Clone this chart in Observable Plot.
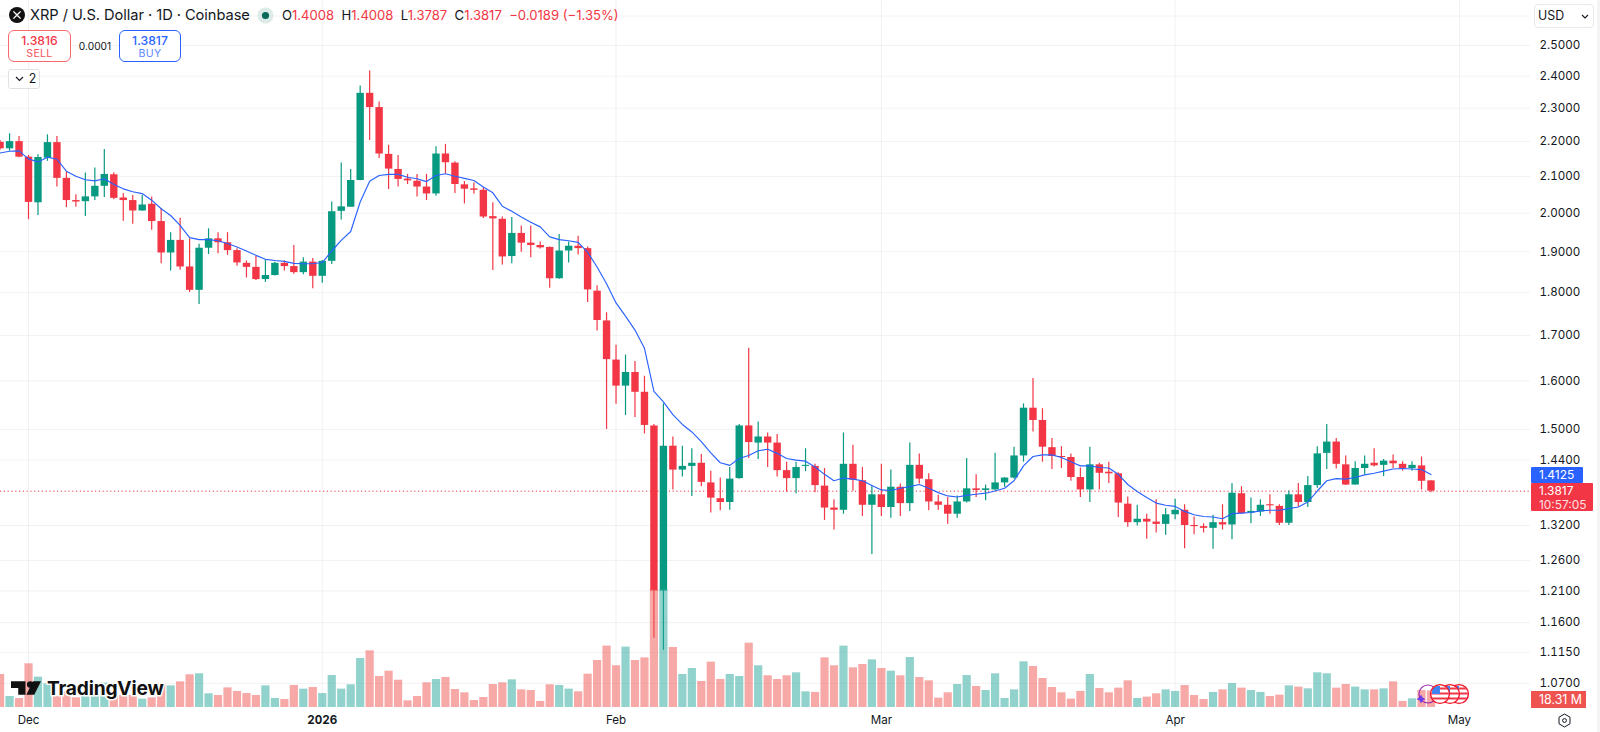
<!DOCTYPE html>
<html>
<head>
<meta charset="utf-8">
<script src="https://cdn.jsdelivr.net/npm/d3@7"></script>
<script src="https://cdn.jsdelivr.net/npm/@observablehq/plot@0.6"></script>
<style>
html,body{margin:0;padding:0;background:#fff;}
#chart{position:relative;width:1600px;height:732px;overflow:hidden;font-family:Inter,"Noto Sans",sans-serif;color:#131722;background:#fff;}
#chart svg.plot-layer{position:absolute;left:0;top:0;}
.ov{position:absolute;white-space:nowrap;box-sizing:border-box;}
.box{border-radius:6px;text-align:center;background:#fff;}
.tag{color:#fff;text-align:left;padding-left:8px;font-size:12px;}
</style>
</head>
<body>
<div id="chart"></div>
<script>
const firstDay = "2025-11-28";
const lastDay = "2026-04-28";
const priceOpen = [
2.198,2.179,2.2,
2.155,2.028,2.152,2.197,2.095,2.034,2.031,2.044,2.073,2.105,2.041,2.034,2.006,2.024,1.978,1.897,1.929,1.862,1.805,1.909,1.933,1.923,1.903,1.871,1.861,1.831,1.841,1.871,1.863,1.848,1.874,
1.839,1.876,2.005,2.016,2.089,2.346,2.302,2.163,2.12,2.093,2.087,2.071,2.052,2.164,2.138,2.077,2.066,2.062,1.991,1.984,1.888,1.947,1.922,1.916,1.911,1.833,1.902,1.914,1.908,1.803,1.733,
1.645,1.589,1.618,1.576,1.507,1.21,1.467,1.421,1.428,1.434,1.397,1.368,1.361,1.405,1.507,1.473,1.485,1.473,1.42,1.405,1.428,1.428,1.391,1.351,1.347,1.432,1.401,1.356,
1.375,1.352,1.389,1.359,1.43,1.403,1.362,1.356,1.34,1.362,1.386,1.383,1.384,1.397,1.406,1.448,1.543,1.518,1.464,1.447,1.445,1.407,1.384,1.431,1.417,1.414,1.358,1.325,1.331,1.326,1.322,
1.339,1.347,1.32,1.318,1.315,1.325,1.321,1.377,1.342,1.344,1.357,1.354,1.324,1.375,1.361,1.392,1.453,1.475,1.431,1.393,1.424,1.434,1.43,1.438,1.432,1.424,1.429,1.4008];
const priceHigh = [
2.203,2.223,2.215,
2.16,2.162,2.22,2.215,2.113,2.05,2.11,2.124,2.177,2.111,2.053,2.048,2.048,2.044,2.012,1.949,1.987,1.933,1.919,1.959,1.949,1.949,1.908,1.877,1.888,1.88,1.874,1.877,1.916,1.885,1.883,
1.878,2.03,2.138,2.12,2.369,2.417,2.319,2.189,2.16,2.106,2.106,2.106,2.185,2.192,2.142,2.086,2.082,2.069,2.028,1.99,1.989,1.966,1.966,1.925,1.912,1.944,1.925,1.94,1.912,1.816,1.752,
1.678,1.656,1.642,1.61,1.51,1.552,1.485,1.467,1.462,1.451,1.419,1.406,1.426,1.51,1.671,1.515,1.493,1.49,1.436,1.436,1.462,1.432,1.424,1.366,1.493,1.469,1.426,1.392,
1.432,1.421,1.395,1.473,1.452,1.414,1.374,1.37,1.373,1.443,1.412,1.393,1.453,1.407,1.465,1.552,1.605,1.542,1.482,1.466,1.452,1.425,1.465,1.434,1.436,1.416,1.371,1.356,1.34,1.366,1.35,
1.367,1.357,1.335,1.323,1.338,1.357,1.396,1.39,1.369,1.366,1.375,1.357,1.382,1.396,1.409,1.466,1.51,1.482,1.448,1.437,1.448,1.462,1.441,1.45,1.437,1.437,1.446,1.4008];
const priceLow = [
2.175,2.172,2.153,
1.983,1.994,2.143,2.071,2.015,2.016,1.991,2.034,2.042,2.036,1.979,1.971,2.005,1.955,1.87,1.852,1.854,1.8,1.771,1.893,1.895,1.891,1.864,1.835,1.829,1.824,1.84,1.852,1.844,1.843,1.809,
1.822,1.868,1.982,2.016,2.088,2.203,2.151,2.064,2.071,2.078,2.044,2.034,2.046,2.108,2.053,2.025,2.051,1.986,1.853,1.867,1.87,1.899,1.885,1.907,1.81,1.832,1.872,1.892,1.776,1.71,1.5,
1.551,1.528,1.524,1.491,1.136,1.118,1.384,1.408,1.372,1.39,1.342,1.346,1.347,1.404,1.443,1.441,1.426,1.408,1.38,1.377,1.418,1.379,1.329,1.312,1.34,1.382,1.336,1.27,
1.336,1.333,1.336,1.345,1.395,1.346,1.347,1.322,1.333,1.36,1.37,1.364,1.382,1.389,1.404,1.436,1.495,1.436,1.422,1.424,1.4,1.37,1.361,1.384,1.396,1.334,1.317,1.319,1.296,1.307,1.303,
1.33,1.28,1.304,1.307,1.279,1.312,1.295,1.34,1.323,1.336,1.34,1.32,1.32,1.353,1.352,1.387,1.422,1.423,1.392,1.393,1.412,1.427,1.409,1.424,1.419,1.419,1.384,1.3787];
const priceClose = [
2.179,2.2,2.155,
2.029,2.154,2.197,2.095,2.034,2.03,2.044,2.073,2.106,2.04,2.034,2.006,2.022,1.978,1.897,1.929,1.862,1.805,1.909,1.933,1.923,1.903,1.872,1.861,1.831,1.841,1.871,1.863,1.848,1.874,1.839,
1.876,2.004,2.017,2.089,2.346,2.302,2.164,2.121,2.092,2.088,2.071,2.052,2.164,2.139,2.078,2.065,2.062,1.99,1.985,1.887,1.947,1.922,1.916,1.91,1.833,1.902,1.914,1.908,1.806,1.734,1.646,
1.589,1.618,1.576,1.508,1.21,1.467,1.421,1.428,1.434,1.398,1.369,1.361,1.404,1.507,1.474,1.485,1.473,1.42,1.405,1.426,1.43,1.392,1.351,1.347,1.432,1.402,1.356,1.375,
1.352,1.389,1.359,1.43,1.404,1.362,1.356,1.34,1.362,1.386,1.383,1.386,1.397,1.406,1.448,1.543,1.518,1.465,1.447,1.445,1.407,1.384,1.431,1.415,1.414,1.36,1.325,1.331,1.326,1.322,1.339,
1.347,1.32,1.318,1.315,1.325,1.321,1.378,1.341,1.345,1.356,1.355,1.324,1.375,1.361,1.392,1.452,1.475,1.432,1.393,1.424,1.432,1.429,1.438,1.433,1.424,1.43,1.4,1.3817];
const movingAverage = [
2.167,2.172,2.173,
2.15,2.141,2.155,2.149,2.115,2.101,2.091,2.088,2.094,2.078,2.066,2.058,2.053,2.035,2.012,1.994,1.968,1.936,1.931,1.931,1.928,1.921,1.912,1.902,1.891,1.881,1.878,1.876,1.871,1.87,1.87,
1.873,1.902,1.929,1.952,2.03,2.087,2.103,2.106,2.106,2.098,2.094,2.086,2.103,2.108,2.101,2.095,2.089,2.071,2.055,2.019,2.005,1.99,1.976,1.964,1.938,1.931,1.928,1.924,1.899,1.862,1.821,
1.775,1.744,1.712,1.671,1.578,1.556,1.53,1.51,1.495,1.476,1.454,1.435,1.43,1.443,1.449,1.458,1.461,1.453,1.443,1.44,1.438,1.427,1.413,1.401,1.406,1.404,1.401,1.392,
1.384,1.383,1.387,1.39,1.394,1.387,1.379,1.373,1.371,1.374,1.376,1.378,1.382,1.387,1.401,1.429,1.447,1.45,1.45,1.445,1.437,1.429,1.429,1.426,1.425,1.413,1.394,1.381,1.37,1.36,1.356,
1.354,1.345,1.339,1.336,1.335,1.332,1.341,1.342,1.343,1.346,1.347,1.347,1.35,1.353,1.362,1.382,1.401,1.405,1.404,1.407,1.412,1.415,1.419,1.423,1.424,1.423,1.422,1.4125];
const volumeM = [
36.6,12.2,10,
48.5,33.7,26.3,12.2,17,10.7,12.2,12.2,27,18,13.3,13.3,9.3,10.7,26.3,24,28.5,36.3,37.4,15.2,13.3,21.8,17.8,15.5,13.3,24,10,8.9,24.4,20.4,22.2,
15.5,35.5,20.4,25.2,54.4,62.9,34.4,40.3,30.3,7.4,12.2,27.4,31.1,33.3,20,16.3,7.8,11.1,25.5,27.4,30.7,19.6,18.9,6.7,25.2,24.4,20.4,17.4,37,52.2,68.1,
46.3,67,52.2,55.1,131,131,66.6,36.6,43.3,28.9,50.3,31.1,36.6,34.4,71.4,46.3,35.2,31.1,35.2,38.5,17.4,16.7,55.1,46.3,68.1,44,47.7,52.9,
43.3,40.3,35.2,55.5,33.3,29.6,10.4,16.3,25.5,35.5,23.3,18.9,37.4,10,19.6,50.7,45.5,32.2,22.2,16.3,9.3,17.8,36.6,21.1,16.3,21.5,29.6,10,11.5,15.2,19.6,
17.8,24.4,13.3,8.9,16.7,19.6,26.6,21.5,18.9,16.7,12.2,13.7,24,22.6,20.7,38.5,37.4,21.5,25.5,22.6,19.6,19.6,20.7,28.5,6.7,9.6,18.9,18.31];
const priceTicks = [2.5,2.4,2.3,2.2,2.1,2.0,1.9,1.8,1.7,1.6,1.5,1.44,1.32,1.26,1.21,1.16,1.115,1.07];
const gridExtra = [2.6];
const monthTicks = ["2025-12-01","2026-02-01","2026-03-01","2026-04-01","2026-05-01"];
const monthLabels = ["Dec","Feb","Mar","Apr","May"];
const yearTick = ["2026-01-01"];
const yearLabel = "2026";
const lastPrice = 1.3817;

const UP = "#089981", DOWN = "#f23645", LINE = "#2962ff";
const FONT = 'Inter,"Noto Sans",sans-serif';
const days = d3.utcDay.range(new Date(firstDay), d3.utcDay.offset(new Date(lastDay), 1));
if (days.length !== priceOpen.length || days.length !== priceHigh.length || days.length !== priceLow.length ||
    days.length !== priceClose.length || days.length !== movingAverage.length || days.length !== volumeM.length) {
  throw new Error(`lengths ${days.length} ${priceOpen.length} ${priceHigh.length} ${priceLow.length} ${priceClose.length} ${movingAverage.length} ${volumeM.length}`);
}
const rows = days.map((date, i) => ({
  date, open: priceOpen[i], high: priceHigh[i], low: priceLow[i], close: priceClose[i],
  ma: movingAverage[i], vol: volumeM[i], up: priceClose[i] >= priceOpen[i]
}));
const colorOf = d => d.up ? UP : DOWN;
const xOptions = {type: "utc", domain: [new Date("2025-11-28T01:05Z"), new Date("2026-05-08T12:00Z")]};
const base = {width: 1600, height: 732, marginLeft: 0, marginRight: 70, marginTop: 0, marginBottom: 25,
  style: {background: "transparent", maxWidth: "none", fontFamily: FONT}};
const monthDates = monthTicks.map(d => new Date(d));
const yearDates = yearTick.map(d => new Date(d));

const pricePlot = Plot.plot({
  ...base,
  x: {...xOptions, axis: null},
  y: {type: "log", domain: [1.0361, 2.6544], range: [707, 0], axis: null},
  marks: [
    Plot.gridY([...gridExtra, ...priceTicks], {stroke: "#000", strokeOpacity: 0.055, strokeWidth: 1}),
    Plot.gridX([...monthDates, ...yearDates], {stroke: "#000", strokeOpacity: 0.055, strokeWidth: 1}),
    Plot.axisY(priceTicks, {anchor: "right", tickSize: 0, tickPadding: 9, tickFormat: d3.format(".4f"),
      fontSize: 11.6, fill: "#131722", label: null}),
    Plot.axisX(monthDates, {anchor: "bottom", tickSize: 0, tickPadding: 8.5,
      tickFormat: d => monthLabels[monthTicks.indexOf(d.toISOString().slice(0, 10))],
      fontSize: 11.6, fill: "#131722", label: null}),
    Plot.axisX(yearDates, {anchor: "bottom", tickSize: 0, tickPadding: 8.5,
      tickFormat: () => yearLabel, fontSize: 11.6, fontWeight: 700, fill: "#131722", label: null}),
    Plot.ruleY([lastPrice], {stroke: DOWN, strokeWidth: 1, strokeDasharray: "1.2,2.6"}),
    Plot.ruleX(rows, {x: "date", y1: "low", y2: "high", stroke: colorOf, strokeWidth: 1.2, clip: true}),
    Plot.ruleX(rows, {x: "date", y1: "open", y2: "close", stroke: colorOf, strokeWidth: 7.4, clip: true}),
    Plot.line(rows, {x: "date", y: "ma", stroke: LINE, strokeWidth: 1.15, curve: "linear", clip: true})
  ]
});
const volumePlot = Plot.plot({
  ...base,
  x: {...xOptions, axis: null},
  y: {type: "linear", domain: [0, 100], range: [707, 616.9], axis: null},
  marks: [
    Plot.ruleX(rows, {x: "date", y1: 0, y2: "vol", stroke: d => d.up ? "#26a69a" : "#ef5350",
      strokeOpacity: 0.5, strokeWidth: 8.2, clip: true})
  ]
});
pricePlot.classList.add("plot-layer");
volumePlot.classList.add("plot-layer");
const chart = document.getElementById("chart");
chart.append(pricePlot, volumePlot);

const overlay = `
<svg class="ov" style="left:9px;top:7px" width="16" height="16" viewBox="0 0 16 16"><circle cx="8" cy="8" r="8" fill="#111"/><path d="M4.4 4.4 7 7q1 1 2 0l2.6-2.6M4.4 11.6 7 9q1-1 2 0l2.6 2.6" stroke="#fff" stroke-width="1.3" fill="none"/></svg>
<div class="ov" style="left:30px;top:6px;font-size:14.65px;line-height:18px;letter-spacing:-.05px">XRP / U.S. Dollar · 1D · Coinbase</div>
<svg class="ov" style="left:257px;top:7px" width="17" height="17"><circle cx="8.5" cy="8.5" r="8" fill="#dcebe8"/><circle cx="8.5" cy="8.5" r="3.6" fill="#08695a"/></svg>
<div class="ov" style="left:282px;top:7px;font-size:13.1px;line-height:16px;color:${DOWN}"><span style="color:#131722">O</span>1.4008&nbsp; <span style="color:#131722">H</span>1.4008&nbsp; <span style="color:#131722">L</span>1.3787&nbsp; <span style="color:#131722">C</span>1.3817&nbsp; −0.0189 (−1.35%)</div>
<div class="ov box" style="left:8px;top:30px;width:63px;height:32px;border:1.4px solid #f7686f;color:${DOWN}"><div style="font-size:12.2px;font-weight:500;line-height:14px;margin-top:3px">1.3816</div><div style="font-size:10.6px;line-height:12px;color:#f7525f;letter-spacing:.3px">SELL</div></div>
<div class="ov" style="left:71px;width:48px;top:40px;font-size:10.2px;line-height:12px;text-align:center">0.0001</div>
<div class="ov box" style="left:119px;top:30px;width:62px;height:32px;border:1.4px solid ${LINE};color:${LINE}"><div style="font-size:12.2px;font-weight:500;line-height:14px;margin-top:3px">1.3817</div><div style="font-size:10.6px;line-height:12px;color:#5b86ff;letter-spacing:.3px">BUY</div></div>
<div class="ov box" style="left:8px;top:69px;width:32px;height:20px;border:1px solid #dfe1e6;font-size:12.4px;line-height:18px;padding-left:3px;border-radius:3px"><svg width="9" height="6" style="margin-right:5px;vertical-align:1px"><path d="M1 1l3.5 3.5L8 1" stroke="#131722" stroke-width="1.1" fill="none"/></svg>2</div>
<div class="ov box" style="left:1534px;top:4px;width:60px;height:24px;border:1px solid #e8e9ed;text-align:left;font-size:12.4px;line-height:22px;padding-left:3px;border-radius:4px">USD<svg width="8" height="6" style="position:absolute;right:4px;top:9px"><path d="M1 1l3 3 3-3" stroke="#131722" stroke-width="1.1" fill="none"/></svg></div>
<div class="ov tag" style="left:1531px;top:467px;width:52px;height:16px;background:${LINE};line-height:16px;border-radius:1px">1.4125</div>
<div class="ov tag" style="left:1531px;top:483px;width:62px;height:28px;background:${DOWN};line-height:13.5px;padding-top:1px;border-radius:1px">1.3817<br><span style="color:#fde0e2;font-size:11.9px">10:57:05</span></div>
<div class="ov tag" style="left:1531px;top:691px;width:55px;height:17px;background:#ef5350;line-height:17px;font-size:12.4px">18.31 M</div>
<svg class="ov" style="left:1557px;top:713px" width="15" height="15" viewBox="0 0 15 15"><path d="M7.5 1 13 4.2v6.6L7.5 14 2 10.8V4.2z" fill="none" stroke="#131722" stroke-width="1"/><circle cx="7.5" cy="7.5" r="1.9" fill="none" stroke="#131722"/></svg>
<div class="ov" style="left:1597px;top:0;width:3px;height:732px;background:#f4f4f5"></div>
<svg class="ov" style="left:1412px;top:680px" width="62" height="30" viewBox="0 0 62 30">
  <defs><clipPath id="fl"><circle cx="0" cy="0" r="8.8"/></clipPath>
  <g id="flag"><circle r="9.4" fill="#fff"/><g clip-path="url(#fl)"><path d="M-9-5.5H9M-9-.5H9M-9 4.5H9" stroke="#f23645" stroke-width="2.2"/><rect x="-8" y="-8" width="8" height="8" fill="#3f83f0"/></g><circle r="9.4" fill="none" stroke="#f01428" stroke-width="1.4"/></g></defs>
  <circle cx="16" cy="14" r="9" fill="none" stroke="#9c27b0" stroke-width="1.2"/>
  <path d="M9 14.5 l1.5 3 3 1.5 -3 1.5 -1.5 3 -1.5-3 -3-1.5 3-1.5z" fill="#6a3cf0"/>
  <use href="#flag" x="47" y="14"/><use href="#flag" x="38" y="14"/><use href="#flag" x="28" y="14"/>
</svg>
<svg class="ov" style="left:11px;top:680px" width="30" height="16" viewBox="0 0 29 15"><path d="M0 1h14v13H7V7.5H0z" fill="#111"/><circle cx="18.6" cy="4.2" r="3.2" fill="#111"/><path d="M29 1 22.5 14H14.8L21.3 1z" fill="#111"/></svg>
<div class="ov" style="left:47px;top:677px;font-size:19.2px;line-height:22px;font-weight:700;letter-spacing:-.2px;color:#111;-webkit-text-stroke:3px #fff;paint-order:stroke fill">TradingView</div>
`;
const holder = document.createElement("div");
holder.innerHTML = overlay;
chart.append(...holder.childNodes);
</script>
</body>
</html>
